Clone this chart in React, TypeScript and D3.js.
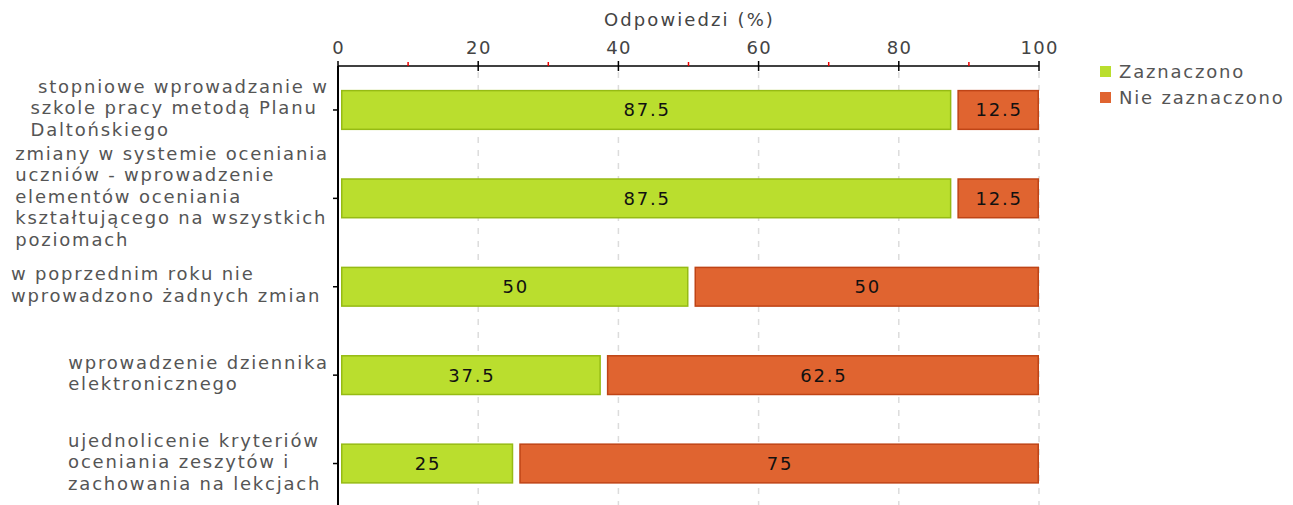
import React, { useLayoutEffect, useRef, useState } from "react";
import * as d3 from "d3";

const categories: string[][] = [
  [" stopniowe wprowadzanie w", "szkole pracy metodą Planu", "Daltońskiego"],
  ["zmiany w systemie oceniania", "uczniów - wprowadzenie", "elementów oceniania", "kształtującego na wszystkich", "poziomach"],
  ["w poprzednim roku nie", "wprowadzono żadnych zmian "],
  ["wprowadzenie dziennika", "elektronicznego"],
  ["ujednolicenie kryteriów", "oceniania zeszytów i", "zachowania na lekcjach "],
];
const zaznaczono = [87.5, 87.5, 50, 37.5, 25];
const nieZaznaczono = [12.5, 12.5, 50, 62.5, 75];
const seriesNames = ["Zaznaczono", "Nie zaznaczono"];
const majorTicks = [0, 20, 40, 60, 80, 100];
const minorTicks = [10, 30, 50, 70, 90];
const axisTitle = "Odpowiedzi (%)";

const W = 1293, H = 505;
const FONT = "DejaVu Sans, Verdana, sans-serif";
const GREEN = "#bade2e", GREEN_S = "#96bb14";
const RED = "#e06430", RED_S = "#bf4416";
const LS = 1.8;

export default function App() {
  const x = d3.scaleLinear().domain([0, 100]).range([338, 1039]);
  const y = d3.scaleBand<number>().domain(d3.range(categories.length)).range([66, 507.5]).paddingInner(0.545).paddingOuter(0.27);
  const axisY = 66;
  const lineH = 21.5;
  const labelRight = 327;
  const labelRefs = useRef<(SVGTextElement | null)[]>([]);
  const [widths, setWidths] = useState<number[] | null>(null);

  useLayoutEffect(() => {
    const ws = labelRefs.current.map((t) => {
      if (!t) return 0;
      const spans = Array.from(t.querySelectorAll("tspan")) as SVGTSpanElement[];
      return d3.max(spans, (s) => s.getComputedTextLength() - LS) ?? 0;
    });
    setWidths(ws);
  }, []);

  const fmt = (v: number) => String(v);
  return (
    <svg width={W} height={H} style={{ position: "absolute", left: 0, top: 0, background: "#fff" }} fontFamily={FONT}>
      <rect width={W} height={H} fill="#fff" />
      {majorTicks.filter(t => t > 0).map(t => (
        <line key={"g" + t} x1={x(t)} x2={x(t)} y1={axisY + 6} y2={H} stroke="#dcdcdc" strokeWidth={1.5} strokeDasharray="6,7" />
      ))}
      {categories.map((_, i) => {
        const y0 = y(i)!;
        const bh = y.bandwidth();
        const g0 = x(0) + 3, g1 = x(zaznaczono[i]);
        const r0 = x(zaznaczono[i]) + 6, r1 = x(zaznaczono[i] + nieZaznaczono[i]);
        return (
          <g key={"b" + i}>
            <rect x={g0 + 0.75} y={y0 + 0.75} width={g1 - g0 - 1.5} height={bh - 1.5} fill={GREEN} stroke={GREEN_S} strokeWidth={1.5} />
            <rect x={r0 + 0.75} y={y0 + 0.75} width={r1 - r0 - 1.5} height={bh - 1.5} fill={RED} stroke={RED_S} strokeWidth={1.5} />
            <text x={(g0 + g1) / 2 + LS / 2} y={y0 + bh / 2} dy="0.36em" textAnchor="middle" fontSize={18} letterSpacing={LS} fill="#111">{fmt(zaznaczono[i])}</text>
            <text x={(r0 + r1) / 2 + LS / 2} y={y0 + bh / 2} dy="0.36em" textAnchor="middle" fontSize={18} letterSpacing={LS} fill="#111">{fmt(nieZaznaczono[i])}</text>
          </g>
        );
      })}
      {/* top axis */}
      <line x1={x(0)} x2={x(100)} y1={axisY} y2={axisY} stroke="#000" strokeWidth={1.5} />
      {majorTicks.map(t => (
        <g key={"t" + t}>
          <line x1={x(t)} x2={x(t)} y1={axisY - 5} y2={axisY + 5} stroke="#000" strokeWidth={1.5} />
          <text x={x(t) + 0.7} y={48} dy="0.36em" textAnchor="middle" fontSize={18} letterSpacing={1.4} fill="#444">{t}</text>
        </g>
      ))}
      {minorTicks.map(t => (
        <line key={"m" + t} x1={x(t)} x2={x(t)} y1={axisY - 4} y2={axisY} stroke="#e00" strokeWidth={1.5} />
      ))}
      <text x={x(50) + 1} y={20} dy="0.36em" textAnchor="middle" fontSize={18} letterSpacing={2.1} fill="#444">{axisTitle}</text>
      {/* left axis */}
      <line x1={x(0)} x2={x(0)} y1={axisY} y2={H} stroke="#000" strokeWidth={2} />
      {categories.map((lines, i) => {
        const cy = y(i)! + y.bandwidth() / 2;
        const top = cy - 2 - ((lines.length - 1) * lineH) / 2;
        const lx = widths ? labelRight - widths[i] : labelRight;
        return (
          <g key={"c" + i}>
            <line x1={x(0) - 5} x2={x(0)} y1={cy} y2={cy} stroke="#000" strokeWidth={1.5} />
            <text ref={(el) => { labelRefs.current[i] = el; }} x={lx} textAnchor="start" fontSize={18} letterSpacing={LS} fill="#555" style={{ whiteSpace: "pre" }}>
              {lines.map((l, j) => (
                <tspan key={j} x={lx} y={top + j * lineH} dy="0.36em">{l}</tspan>
              ))}
            </text>
          </g>
        );
      })}
      {/* legend */}
      {seriesNames.map((s, i) => (
        <g key={"l" + i}>
          <rect x={1100} y={66 + i * 26} width={11} height={11} fill={i === 0 ? GREEN : RED} />
          <text x={1119} y={72 + i * 26} dy="0.36em" fontSize={18} letterSpacing={LS} fill="#555">{s}</text>
        </g>
      ))}
    </svg>
  );
}
